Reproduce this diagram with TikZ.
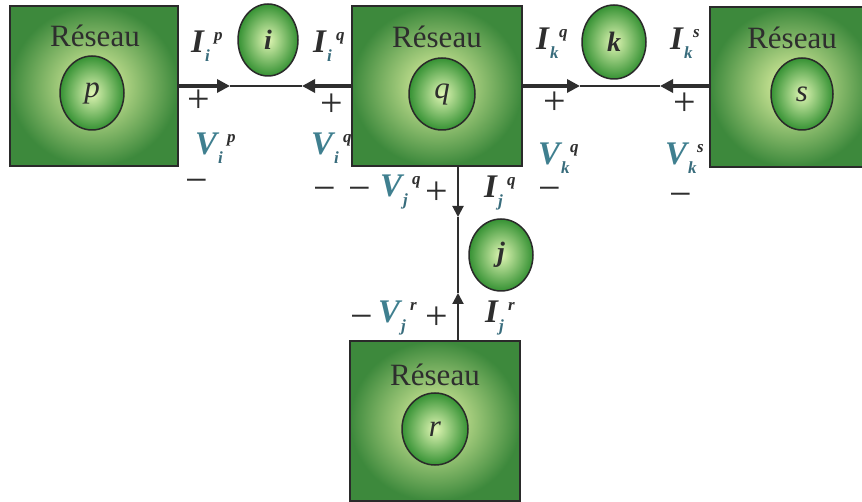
\documentclass[tikz,border=0pt]{standalone}
\usepackage{fontspec}
\setmainfont{Liberation Serif}
\usetikzlibrary{arrows.meta,shapes.geometric}
\definecolor{boxout}{HTML}{3D893C}
\definecolor{boxin}{HTML}{EAF9A8}
\definecolor{cirout}{HTML}{369234}
\definecolor{cirin}{HTML}{E0F6B4}
\definecolor{boxline}{HTML}{2A2A2A}
\definecolor{ink}{HTML}{2E2E2E}
\definecolor{vcol}{HTML}{3F7F8F}
\definecolor{subc}{HTML}{386C7C}
\newcommand\qlab[4]{%
\textcolor{#4}{\fontsize{33}{33}\selectfont\bfseries\itshape #1}%
\rlap{\raisebox{12pt}{\hspace{10pt}\fontsize{17}{17}\selectfont\bfseries\itshape\textcolor{ink}{#3}}}%
\raisebox{-9pt}{\hspace{1pt}\fontsize{17}{17}\selectfont\bfseries\itshape\textcolor{subc}{#2}}}
\begin{document}
\begin{tikzpicture}[x=1pt,y=-1pt,
  netbox/.style={draw=boxline,line width=1.6pt,shading=radial,inner color=boxin,outer color=boxout,inner sep=0pt},
  netcirc/.style={ellipse,draw=boxline,line width=1.5pt,shading=radial,inner color=cirin,outer color=cirout,inner sep=0pt,text=ink,font=\fontsize{31}{31}\selectfont\itshape},
  linecirc/.style={netcirc,font=\fontsize{28}{28}\selectfont\bfseries\itshape},
  reslab/.style={anchor=base,text=ink,font=\fontsize{31}{31}\selectfont,inner sep=0pt},
  qty/.style={anchor=base west,inner sep=0pt},
  sgn/.style={anchor=base,inner sep=0pt,text=ink,font=\fontsize{40}{40}\selectfont},
  thk/.style={draw=ink,line width=4pt},
  thn/.style={draw=ink,line width=2.5pt},
  vln/.style={draw=ink,line width=2pt},
  tip/.style={-{Triangle[length=13pt,width=13pt]}},
  vtip/.style={-{Triangle[length=11pt,width=11pt]}}]
\clip (0,0) rectangle (862,502);
\fill[white] (0,0) rectangle (862,502);
% boxes
\node[netbox,minimum width=168pt,minimum height=160pt] (p) at (94,86) {};
\node[netbox,minimum width=170pt,minimum height=160pt] (q) at (437,86) {};
\node[netbox,minimum width=164pt,minimum height=160pt] (s) at (792,87) {};
\node[netbox,minimum width=170pt,minimum height=160pt] (r) at (435,421) {};
\node[reslab] (tp) at (95,47) {Réseau};
\node[reslab] (tq) at (437,48) {Réseau};
\node[reslab] (ts) at (792,49) {Réseau};
\node[reslab] (tr) at (435,386) {Réseau};
% circles
\node[netcirc,minimum width=64pt,minimum height=74pt] (cp) at (92,93) {p};
\node[netcirc,minimum width=66pt,minimum height=72pt] (cq) at (442,94) {q};
\node[netcirc,minimum width=62pt,minimum height=72pt] (cs) at (802,94) {s};
\node[netcirc,minimum width=66pt,minimum height=72pt] (cr) at (435,429) {r};
\node[linecirc,minimum width=60pt,minimum height=72pt] (ci) at (268,40) {i};
\node[linecirc,minimum width=64pt,minimum height=74pt] (ck) at (614,42) {k};
\node[linecirc,minimum width=64pt,minimum height=72pt] (cj) at (501,255) {j};
% connectors
\coordinate (t1) at (230,86);
\coordinate (t2) at (302,86);
\coordinate (t3) at (580,86);
\coordinate (t4) at (660,86);
\coordinate (t5) at (458,217);
\coordinate (t6) at (458,293);
\draw[thn] (t1) -- (t2);
\draw[thk,tip] (p.east) -- (t1);
\draw[thk,tip] (q.west) -- (t2);
\draw[thn] (t3) -- (t4);
\draw[thk,tip] (q.east) -- (t3);
\draw[thk,tip] (s.west |- t4) -- (t4);
\draw[vln] (t5) -- (t6);
\draw[vln,vtip] (q.south -| t5) -- (t5);
\draw[vln,vtip] (r.north -| t6) -- (t6);
% quantities
\node[qty] (Iip) at (191,53) {\qlab{I}{i}{p}{ink}};
\node[qty] (Iiq) at (313,53) {\qlab{I}{i}{q}{ink}};
\node[qty] (Ikq) at (536,50) {\qlab{I}{k}{q}{ink}};
\node[qty] (Iks) at (670,50) {\qlab{I}{k}{s}{ink}};
\node[qty] (Vip) at (195,155) {\qlab{V}{i}{p}{vcol}};
\node[qty] (Viq) at (311,155) {\qlab{V}{i}{q}{vcol}};
\node[qty] (Vkq) at (538,165) {\qlab{V}{k}{q}{vcol}};
\node[qty] (Vks) at (665,165) {\qlab{V}{k}{s}{vcol}};
\node[qty] (Vjq) at (380,197) {\qlab{V}{j}{q}{vcol}};
\node[qty] (Ijq) at (484,198) {\qlab{I}{j}{q}{ink}};
\node[qty] (Vjr) at (378,323) {\qlab{V}{j}{r}{vcol}};
\node[qty] (Ijr) at (485,323) {\qlab{I}{j}{r}{ink}};
% signs
\node[sgn] (pl1) at (199,113) {+};
\node[sgn] (pl2) at (332,117) {+};
\node[sgn] (pl3) at (555,115) {+};
\node[sgn] (pl4) at (685,116) {+};
\node[sgn] (pl5) at (437,205) {+};
\node[sgn] (pl6) at (437,330) {+};
\node[sgn] (mi1) at (197,194) {−};
\node[sgn] (mi2) at (325,202) {−};
\node[sgn] (mi3) at (360,202) {−};
\node[sgn] (mi4) at (550,202) {−};
\node[sgn] (mi5) at (681,208) {−};
\node[sgn] (mi6) at (362,330) {−};
\end{tikzpicture}
\end{document}
